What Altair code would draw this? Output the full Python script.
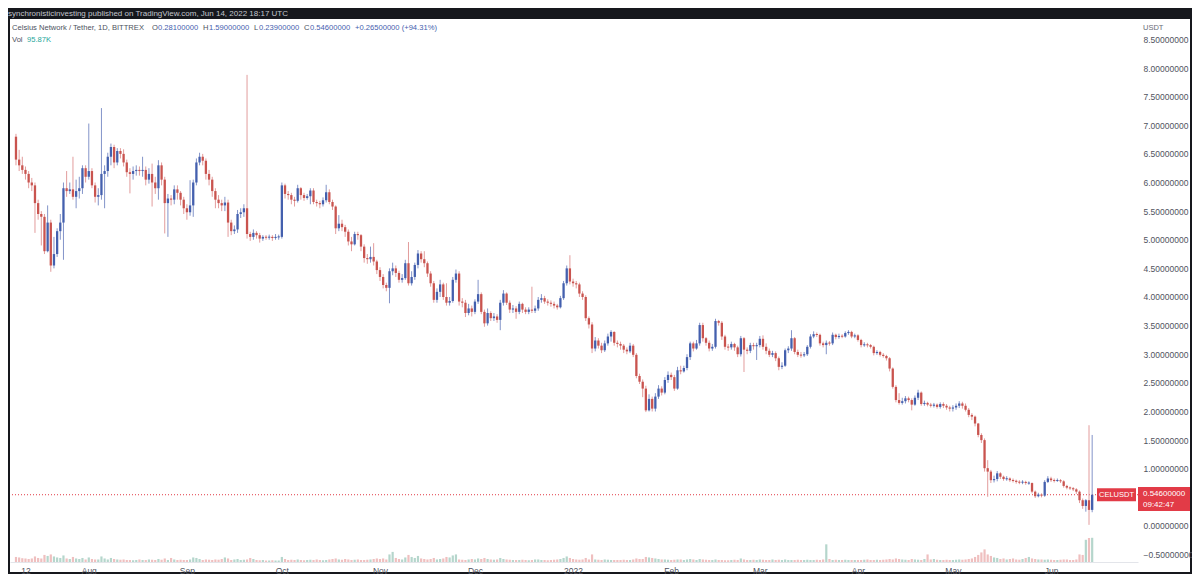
import altair as alt
import pandas as pd

# ---------------- data (CEL/USDT daily, Bittrex, 2021-07-09 .. 2022-06-14) ----------------
first_open = 6.80

closes_jul = [6.40, 6.30, 6.22, 6.15, 6.00, 5.95, 5.64, 5.45, 5.40, 4.80, 5.30, 4.55, 4.75, 5.15, 5.30, 5.90, 5.85, 5.88, 5.75, 5.85, 5.90, 6.25, 6.10]
highs_jul = [6.85, 6.57, 6.45, 6.28, 6.20, 6.08, 6.00, 5.70, 5.50, 5.45, 5.60, 5.35, 5.05, 5.20, 5.45, 6.00, 6.20, 6.00, 6.45, 6.05, 6.10, 6.30, 6.30]
lows_jul = [6.30, 6.20, 6.15, 6.05, 5.90, 5.85, 5.12, 5.35, 4.90, 4.75, 4.78, 4.44, 4.50, 4.70, 5.00, 4.65, 5.75, 5.80, 5.70, 5.55, 5.72, 5.80, 6.00]

closes_aug = [6.20, 5.95, 5.75, 5.78, 6.15, 6.20, 6.45, 6.62, 6.35, 6.55, 6.50, 6.35, 6.18, 6.15, 6.20, 6.22, 6.20, 6.22, 6.05, 6.15, 6.00, 5.90, 6.30, 6.05, 5.64, 5.72, 5.70, 5.88, 5.82, 5.70, 5.55]
highs_aug = [7.03, 6.25, 6.00, 5.90, 7.30, 6.30, 6.52, 6.68, 6.66, 6.60, 6.60, 6.58, 6.40, 6.25, 6.28, 6.30, 6.28, 6.45, 6.28, 6.25, 6.33, 6.10, 6.39, 6.35, 6.10, 5.80, 5.78, 5.95, 5.95, 5.85, 5.75]
lows_aug = [6.05, 5.90, 5.65, 5.60, 5.70, 5.55, 6.10, 6.30, 6.25, 6.30, 6.42, 6.28, 6.10, 5.81, 6.05, 6.12, 6.12, 6.10, 5.95, 5.98, 5.58, 5.80, 5.70, 5.95, 5.11, 5.05, 5.60, 5.62, 5.70, 5.60, 5.45]

closes_sep = [5.48, 5.60, 6.00, 6.35, 6.45, 6.38, 6.15, 6.05, 5.85, 5.70, 5.64, 5.60, 5.65, 5.30, 5.15, 5.18, 5.45, 5.48, 5.55, 5.10, 5.05, 5.12, 5.08, 5.02, 5.05, 5.04, 5.05, 5.03, 5.05, 5.05]
highs_sep = [5.62, 6.04, 6.05, 6.42, 6.52, 6.50, 6.42, 6.22, 6.10, 5.90, 5.78, 5.70, 5.75, 5.70, 5.35, 5.25, 5.52, 5.55, 5.62, 7.88, 5.14, 5.18, 5.15, 5.12, 5.08, 5.08, 5.09, 5.08, 5.10, 5.09]
lows_sep = [5.35, 5.42, 5.40, 5.95, 6.30, 6.30, 6.05, 5.95, 5.75, 5.55, 5.55, 5.50, 5.50, 5.05, 5.08, 5.10, 5.12, 5.38, 5.40, 5.02, 4.98, 5.00, 5.02, 4.95, 4.98, 5.00, 5.00, 4.98, 5.00, 5.00]

closes_oct = [5.95, 5.80, 5.78, 5.70, 5.68, 5.90, 5.78, 5.73, 5.76, 5.86, 5.66, 5.64, 5.62, 5.69, 5.83, 5.66, 5.58, 5.20, 5.28, 5.22, 5.14, 4.97, 4.92, 5.10, 5.08, 4.88, 4.68, 4.66, 4.70, 4.62, 4.47]
highs_oct = [6.00, 5.98, 5.85, 5.82, 5.75, 5.96, 5.92, 5.82, 5.80, 5.90, 5.90, 5.70, 5.68, 5.74, 5.96, 5.88, 5.70, 5.60, 5.43, 5.35, 5.26, 5.18, 5.05, 5.14, 5.14, 5.10, 4.92, 4.75, 4.88, 4.94, 4.65]
lows_oct = [5.02, 5.72, 5.70, 5.62, 5.58, 5.65, 5.70, 5.68, 5.70, 5.62, 5.62, 5.58, 5.55, 5.58, 5.65, 5.62, 5.52, 5.10, 5.15, 5.15, 5.05, 4.90, 4.80, 4.90, 5.00, 4.80, 4.60, 4.58, 4.60, 4.55, 4.40]

closes_nov = [4.35, 4.21, 4.16, 4.45, 4.50, 4.42, 4.30, 4.33, 4.59, 4.24, 4.35, 4.56, 4.76, 4.66, 4.59, 4.41, 4.24, 3.95, 4.09, 4.22, 4.00, 3.90, 3.93, 4.30, 4.41, 3.92, 3.90, 3.72, 3.80, 3.74]
highs_nov = [4.52, 4.40, 4.25, 4.50, 4.60, 4.55, 4.46, 4.40, 4.65, 4.96, 4.45, 4.60, 4.82, 4.80, 4.80, 4.62, 4.45, 4.28, 4.15, 4.30, 4.25, 4.24, 4.00, 4.35, 4.48, 4.45, 3.98, 3.95, 3.88, 3.85]
lows_nov = [4.28, 4.15, 4.10, 3.89, 4.38, 4.35, 4.25, 4.25, 4.30, 4.20, 4.20, 4.30, 4.50, 4.60, 4.52, 4.35, 4.18, 3.90, 3.90, 4.00, 3.95, 3.85, 3.85, 3.90, 4.25, 3.85, 3.82, 3.65, 3.68, 3.66]

closes_dec = [3.92, 4.05, 3.74, 3.54, 3.72, 3.63, 3.66, 3.60, 3.90, 4.06, 3.90, 3.78, 3.80, 3.74, 3.88, 3.78, 3.74, 3.78, 3.76, 3.80, 3.95, 3.98, 3.92, 3.90, 3.88, 3.85, 3.82, 3.98, 4.24, 4.50, 4.27]
highs_dec = [3.96, 4.30, 4.08, 3.78, 3.80, 3.75, 3.72, 3.70, 3.95, 4.12, 4.08, 3.94, 3.86, 3.84, 3.92, 3.90, 3.82, 3.82, 4.18, 3.85, 4.00, 4.05, 4.02, 3.96, 3.94, 3.92, 3.88, 4.02, 4.28, 4.55, 4.73]
lows_dec = [3.70, 3.88, 3.70, 3.48, 3.50, 3.58, 3.58, 3.55, 3.42, 3.85, 3.86, 3.72, 3.72, 3.62, 3.70, 3.72, 3.70, 3.70, 3.72, 3.72, 3.76, 3.90, 3.88, 3.85, 3.83, 3.80, 3.78, 3.80, 3.95, 4.20, 4.22]

closes_jan = [4.24, 4.22, 4.06, 4.00, 3.63, 3.52, 3.10, 3.24, 3.15, 3.07, 3.19, 3.31, 3.39, 3.20, 3.18, 3.15, 3.08, 3.05, 3.15, 2.99, 2.62, 2.52, 2.40, 2.02, 2.22, 2.05, 2.26, 2.40, 2.33, 2.55, 2.64]
highs_jan = [4.32, 4.28, 4.25, 4.10, 4.03, 3.66, 3.56, 3.30, 3.28, 3.20, 3.24, 3.36, 3.42, 3.40, 3.24, 3.22, 3.18, 3.12, 3.20, 3.18, 3.02, 2.66, 2.56, 2.45, 2.30, 2.26, 2.32, 2.46, 2.44, 2.60, 2.70]
lows_jan = [4.18, 4.15, 4.00, 3.95, 3.58, 3.45, 3.02, 3.05, 3.10, 3.02, 3.04, 3.15, 3.22, 3.15, 3.12, 3.08, 3.02, 3.00, 3.02, 2.95, 2.58, 2.48, 2.25, 1.99, 2.00, 2.00, 2.00, 2.22, 2.28, 2.30, 2.50]

closes_feb = [2.60, 2.40, 2.72, 2.70, 2.76, 2.95, 3.19, 3.10, 3.19, 3.51, 3.28, 3.20, 3.10, 3.13, 3.58, 3.55, 3.31, 3.13, 3.12, 3.18, 3.12, 3.00, 3.28, 3.08, 3.06, 3.16, 3.14, 3.16]
highs_feb = [2.68, 2.64, 2.78, 2.80, 2.80, 3.00, 3.22, 3.22, 3.25, 3.55, 3.55, 3.30, 3.24, 3.18, 3.62, 3.60, 3.58, 3.34, 3.18, 3.22, 3.20, 3.15, 3.32, 3.30, 3.12, 3.20, 3.20, 3.20]
lows_feb = [2.55, 2.36, 2.38, 2.65, 2.68, 2.72, 2.90, 3.05, 3.08, 3.15, 3.22, 3.15, 3.05, 3.06, 3.10, 3.50, 3.25, 3.08, 3.06, 3.08, 3.06, 2.95, 2.96, 2.69, 3.00, 3.02, 3.08, 2.90]

closes_mar = [3.27, 3.13, 3.06, 2.99, 3.02, 2.93, 2.78, 2.80, 3.07, 3.10, 3.28, 3.04, 2.99, 2.98, 3.00, 3.13, 3.31, 3.35, 3.34, 3.19, 3.16, 3.20, 3.19, 3.34, 3.30, 3.32, 3.31, 3.37, 3.39, 3.31, 3.33]
highs_mar = [3.32, 3.33, 3.19, 3.10, 3.06, 3.05, 2.96, 2.86, 3.10, 3.14, 3.42, 3.30, 3.08, 3.04, 3.04, 3.16, 3.35, 3.40, 3.38, 3.36, 3.22, 3.24, 3.23, 3.38, 3.36, 3.36, 3.35, 3.40, 3.42, 3.41, 3.36]
lows_mar = [3.12, 3.08, 3.00, 2.95, 2.95, 2.88, 2.72, 2.74, 2.78, 3.02, 3.06, 3.00, 2.95, 2.94, 2.95, 2.97, 3.10, 3.28, 3.30, 3.15, 3.12, 3.00, 3.15, 3.16, 3.26, 3.27, 3.28, 3.29, 3.34, 3.28, 3.28]

closes_apr = [3.25, 3.16, 3.17, 3.16, 3.13, 3.02, 3.04, 2.99, 2.97, 2.93, 2.75, 2.43, 2.20, 2.15, 2.18, 2.23, 2.20, 2.12, 2.24, 2.33, 2.13, 2.15, 2.12, 2.10, 2.12, 2.08, 2.13, 2.10, 2.07, 2.05]
highs_apr = [3.35, 3.27, 3.21, 3.20, 3.18, 3.15, 3.07, 3.06, 3.02, 2.99, 2.95, 2.77, 2.46, 2.32, 2.24, 2.27, 2.26, 2.23, 2.28, 2.38, 2.35, 2.19, 2.17, 2.15, 2.15, 2.14, 2.16, 2.16, 2.13, 2.10]
lows_apr = [3.22, 3.12, 3.13, 3.12, 3.10, 2.98, 2.99, 2.96, 2.94, 2.89, 2.70, 2.40, 2.16, 2.12, 2.12, 2.14, 2.16, 2.02, 2.10, 2.20, 2.10, 2.10, 2.09, 2.07, 2.07, 2.05, 2.05, 2.06, 2.03, 2.00]

closes_may = [2.07, 2.10, 2.14, 2.10, 2.03, 1.94, 1.91, 1.79, 1.59, 1.50, 1.01, 0.95, 0.80, 0.82, 0.92, 0.86, 0.82, 0.83, 0.80, 0.79, 0.77, 0.76, 0.77, 0.75, 0.75, 0.60, 0.52, 0.55, 0.53, 0.77, 0.83]
highs_may = [2.11, 2.14, 2.18, 2.17, 2.14, 2.06, 1.97, 1.93, 1.80, 1.62, 1.53, 1.15, 0.98, 0.88, 0.96, 0.94, 0.88, 0.87, 0.85, 0.83, 0.81, 0.80, 0.80, 0.79, 0.78, 0.76, 0.62, 0.58, 0.57, 0.80, 0.87]
lows_may = [2.00, 2.03, 2.06, 2.05, 2.00, 1.90, 1.85, 1.74, 1.55, 1.45, 0.95, 0.51, 0.75, 0.76, 0.78, 0.82, 0.79, 0.79, 0.77, 0.76, 0.74, 0.73, 0.73, 0.72, 0.72, 0.57, 0.49, 0.50, 0.50, 0.51, 0.75]

closes_jun = [0.80, 0.79, 0.80, 0.78, 0.70, 0.67, 0.66, 0.64, 0.60, 0.45, 0.35, 0.45, 0.281, 0.546]
highs_jun = [0.86, 0.83, 0.83, 0.82, 0.80, 0.72, 0.69, 0.68, 0.66, 0.62, 0.48, 0.47, 1.76, 1.59]
lows_jun = [0.77, 0.76, 0.77, 0.75, 0.67, 0.64, 0.63, 0.61, 0.56, 0.40, 0.30, 0.25, 0.02, 0.2399]

# volume in thousands
vol_jul = [20, 18, 15, 14, 12, 14, 22, 16, 14, 28, 24, 30, 22, 18, 16, 26, 14, 12, 20, 14, 12, 16, 10]
vol_aug = [18, 12, 10, 10, 22, 14, 10, 16, 12, 10, 9, 10, 8, 8, 7, 8, 10, 8, 8, 10, 9, 8, 12, 9, 14, 8, 16, 10, 8, 9, 8]
vol_sep = [8, 10, 18, 16, 12, 8, 10, 9, 8, 10, 9, 12, 18, 14, 8, 10, 12, 8, 9, 10, 16, 12, 8, 7, 8, 6, 6, 7, 6, 6]
vol_oct = [20, 12, 8, 9, 8, 10, 8, 7, 8, 9, 8, 10, 8, 7, 8, 10, 12, 14, 10, 9, 12, 10, 8, 9, 10, 8, 8, 9, 10, 12, 14]
vol_nov = [12, 14, 10, 30, 40, 16, 12, 10, 18, 28, 20, 16, 24, 14, 12, 10, 12, 16, 10, 12, 14, 20, 18, 26, 30, 10, 9, 8, 10, 12]
vol_dec = [10, 14, 12, 16, 12, 10, 9, 10, 16, 12, 10, 9, 8, 8, 8, 9, 8, 7, 8, 10, 10, 8, 8, 7, 8, 9, 10, 12, 16, 22, 16]
vol_jan = [12, 10, 9, 10, 16, 10, 30, 10, 9, 8, 10, 9, 8, 8, 8, 8, 9, 8, 8, 10, 14, 12, 12, 20, 18, 16, 14, 12, 10, 10, 9]
vol_feb = [8, 9, 10, 10, 8, 10, 12, 10, 8, 12, 10, 9, 8, 8, 10, 8, 8, 7, 7, 8, 9, 8, 14, 10, 8, 8, 9, 8]
vol_mar = [10, 9, 8, 8, 10, 8, 9, 8, 10, 8, 8, 8, 9, 8, 8, 9, 8, 8, 9, 8, 10, 70, 12, 8, 9, 8, 8, 9, 8, 8, 8]
vol_apr = [8, 8, 9, 10, 8, 8, 9, 8, 9, 10, 12, 10, 14, 12, 10, 9, 8, 12, 10, 9, 8, 12, 30, 10, 12, 9, 8, 8, 9, 8]
vol_may = [8, 9, 10, 9, 10, 12, 14, 20, 28, 38, 50, 30, 24, 18, 16, 12, 14, 10, 12, 14, 10, 9, 12, 16, 20, 14, 12, 10, 10, 9, 10]
vol_jun = [9, 8, 8, 9, 10, 10, 8, 8, 10, 30, 28, 88, 95, 95.87]

tick_days = [3, 23, 54, 84, 115, 145, 176, 207, 235, 266, 296, 327]
tick_labels = ["12", "Aug", "Sep", "Oct", "Nov", "Dec", "2022", "Feb", "Mar", "Apr", "May", "Jun"]
price_ticks = [-0.5, 0.0, 1.0, 1.5, 2.0, 2.5, 3.0, 3.5, 4.0, 4.5, 5.0, 5.5, 6.0, 6.5, 7.0, 7.5, 8.0, 8.5]

# ---------------- assemble ----------------
closes = closes_jul + closes_aug + closes_sep + closes_oct + closes_nov + closes_dec + closes_jan + closes_feb + closes_mar + closes_apr + closes_may + closes_jun
highs = highs_jul + highs_aug + highs_sep + highs_oct + highs_nov + highs_dec + highs_jan + highs_feb + highs_mar + highs_apr + highs_may + highs_jun
lows = lows_jul + lows_aug + lows_sep + lows_oct + lows_nov + lows_dec + lows_jan + lows_feb + lows_mar + lows_apr + lows_may + lows_jun
volumes = vol_jul + vol_aug + vol_sep + vol_oct + vol_nov + vol_dec + vol_jan + vol_feb + vol_mar + vol_apr + vol_may + vol_jun
n = min(len(closes), len(highs), len(lows), len(volumes))
dates = pd.date_range("2021-07-09", periods=n, freq="D")
opens = [first_open] + closes[:-1]

rows = []
for i in range(n):
    o, c = opens[i], closes[i]
    h = max(highs[i], o, c)
    l = min(lows[i], o, c)
    lo, hi = min(o, c), max(o, c)
    if hi - lo < 0.018:
        mid = (hi + lo) / 2
        lo, hi = mid - 0.009, mid + 0.009
    rows.append(dict(day=i, date=dates[i].strftime("%Y-%m-%d"), open=o, high=h, low=l,
                     close=c, body_lo=lo, body_hi=hi, vol=volumes[i],
                     dir="up" if c >= o else "down"))
df = pd.DataFrame(rows)

# ---------------- layout constants ----------------
W, H = 1128, 543
X_DOMAIN = [-0.31, 352.9]
Y_DOMAIN = [-0.629, 8.856]
PPX = (Y_DOMAIN[1] - Y_DOMAIN[0]) / H  # price per pixel
FONT = "Liberation Sans"
UP, DOWN = "#4460ae", "#c9544f"
UP_WICK, DOWN_WICK = "#8394c9", "#e29c9c"
VOL_UP, VOL_DOWN = "#b5d6cc", "#efbfbf"
RED = "#e23b47"

label_expr = " : ".join(f"datum.value == {d} ? '{t}'" for d, t in zip(tick_days, tick_labels)) + " : ''"
x_axis = alt.Axis(values=tick_days, labelExpr=label_expr, grid=False, ticks=False, domain=True,
                  domainColor="#e3e5ea", labelColor="#50535e", labelFont=FONT, labelFontSize=8.5,
                  labelPadding=4, labelFlush=False, labelOverlap=False, title=None, zindex=2)
x_scale = alt.Scale(domain=X_DOMAIN, nice=False, zero=False)
X = alt.X("day:Q", scale=x_scale, axis=x_axis)

def yscale():
    return alt.Scale(domain=Y_DOMAIN, nice=False, zero=False)

y_axis = alt.Axis(orient="right", values=price_ticks, format=".8f", grid=False, ticks=False,
                  domain=False, labelColor="#50535e", labelFont=FONT, labelFontSize=8.5,
                  labelPadding=5, labelAlign="left", labelBaseline="middle",
                  labelFlush=False, labelOverlap=False, title=None, zindex=2)

one = pd.DataFrame({"k": [0]})

panel = alt.Chart(one).mark_rect(color="white").encode(
    x=alt.value(0), x2=alt.value(1180), y=alt.value(0), y2=alt.value(553))

vol = alt.Chart(df).mark_bar(size=2.2).encode(
    x=X,
    y=alt.Y("vol:Q", scale=alt.Scale(domain=[0, 2150], nice=False, zero=True), axis=None),
    color=alt.Color("dir:N", scale=alt.Scale(domain=["up", "down"], range=[VOL_UP, VOL_DOWN]), legend=None))

last = pd.DataFrame({"price": [closes[-1]]})
price_line = alt.Chart(last).mark_rule(color=RED, strokeDash=[1, 2], strokeWidth=1).encode(
    y=alt.Y("price:Q", scale=yscale(), axis=None))

wicks = alt.Chart(df).mark_rule(strokeWidth=1).encode(
    x=X,
    y=alt.Y("low:Q", scale=yscale(), axis=y_axis),
    y2="high:Q",
    color=alt.Color("dir:N", scale=alt.Scale(domain=["up", "down"], range=[UP_WICK, DOWN_WICK]), legend=None))

bodies = alt.Chart(df).mark_bar(size=2.3).encode(
    x=X,
    y=alt.Y("body_lo:Q", scale=yscale(), axis=None),
    y2="body_hi:Q",
    color=alt.Color("dir:N", scale=alt.Scale(domain=["up", "down"], range=[UP, DOWN]), legend=None))

p = closes[-1]
boxes_df = pd.DataFrame({
    "x": [0, 1], "top": [p + 6.5 * PPX, p + 7.7 * PPX], "bot": [p - 6.5 * PPX, p - 16.3 * PPX]})
sym_box = alt.Chart(boxes_df.iloc[[0]]).mark_rect(color=RED).encode(
    x=alt.value(1087), x2=alt.value(1126),
    y=alt.Y("top:Q", scale=yscale(), axis=None), y2="bot:Q")
price_box = alt.Chart(boxes_df.iloc[[1]]).mark_rect(color=RED).encode(
    x=alt.value(1128), x2=alt.value(1180),
    y=alt.Y("top:Q", scale=yscale(), axis=None), y2="bot:Q")

def ptext(text, x, dy, size=8, align="left"):
    return alt.Chart(last).mark_text(text=text, color="white", font=FONT, fontSize=size,
                                     align=align, baseline="middle", dy=dy).encode(
        x=alt.value(x), y=alt.Y("price:Q", scale=yscale(), axis=None))

sym_txt = ptext("CELUSDT", 1106.5, 0, 7.5, "center")
price_txt = ptext("0.54600000", 1133, -0.5, 8)
time_txt = ptext("09:42:47", 1133, 10.5, 8)

def label(text, x, y, color, size=8):
    return alt.Chart(one).mark_text(text=text, color=color, font=FONT, fontSize=size,
                                    align="left", baseline="middle").encode(
        x=alt.value(x), y=alt.value(y))

texts = [
    label("synchronisticinvesting published on TradingView.com, Jun 14, 2022 18:17 UTC", -2, -5.5, "#c3c6cd", 8),
    label("Celsius Network / Tether, 1D, BITTREX", 2, 9, "#4c525e", 7.6),
    label("O", 142, 9, "#4c525e", 7.6), label("0.28100000", 148, 9, UP, 7.6),
    label("H", 193, 9, "#4c525e", 7.6), label("1.59000000", 199, 9, UP, 7.6),
    label("L", 244, 9, "#4c525e", 7.6), label("0.23900000", 249, 9, UP, 7.6),
    label("C", 294, 9, "#4c525e", 7.6), label("0.54600000", 300, 9, UP, 7.6),
    label("+0.26500000 (+94.31%)", 345, 9, UP, 7.6),
    label("Vol", 2, 21, "#4c525e", 7.6), label("95.87K", 17, 21, "#26a69a", 7.6),
    label("USDT", 1133, 9, "#6a6d78", 7.5),
]

chart = alt.layer(
    panel, vol, price_line, wicks, bodies, sym_box, price_box, sym_txt, price_txt, time_txt, *texts
).resolve_scale(
    y="independent", color="independent"
).properties(
    width=W, height=H,
    padding={"left": 2, "top": 11, "right": 54, "bottom": 12},
    autosize=alt.AutoSizeParams(type="none"),
    background="#16181d",
).configure_view(strokeWidth=0)

chart.save("out.html", embed_options={"renderer": "svg", "actions": False})
